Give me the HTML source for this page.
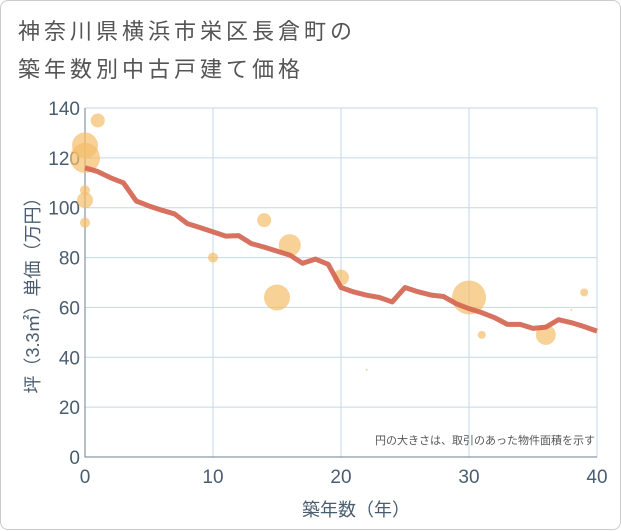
<!DOCTYPE html>
<html><head><meta charset="utf-8"><style>
body{margin:0;background:#fff;font-family:"Liberation Sans","Noto Sans CJK JP",sans-serif;}
#card{position:absolute;left:0;top:0;width:619px;height:528px;border:1px solid #ccc;border-radius:8px;background:#fff;}
#title{position:absolute;left:17px;top:12px;font-size:22px;letter-spacing:4px;line-height:38px;color:#555;}
</style></head><body>
<div id="card">
<div id="title">神奈川県横浜市栄区長倉町の<br>築年数別中古戸建て価格</div>
<svg id="chart" width="621" height="530" style="position:absolute;left:0;top:0"></svg>
</div>
<script>
const years=[0,1,2,3,4,5,6,7,8,9,10,11,12,13,14,15,16,17,18,19,20,21,22,23,24,25,26,27,28,29,30,31,32,33,34,35,36,37,38,39,40];
const trend=[116,114.5,112,110,102.7,100.7,99,97.5,93.6,92,90.3,88.6,88.8,85.6,84.2,82.6,81,77.7,79.4,77.3,68,66.2,64.9,64,62.2,68,66.3,65,64.4,61.5,59.5,57.9,55.9,53.2,53.2,51.6,52.1,55.1,53.9,52.3,50.5];
const bubbleX=[0,0,1,0,0,0,10,14,16,15,20,22,30,31,36,38,39];
const bubbleY=[125,120,135,107,103,94,80,95,85,64,72,35,64,49,49,59,66];
const bubbleR=[13,15,7,5,8,5,5,7,11,13,8,1,17,4,10,1,4];
const xTicks=[0,10,20,30,40];
const yTicks=[0,20,40,60,80,100,120,140];
const NS="http://www.w3.org/2000/svg";
const svg=document.getElementById('chart');
const X0=84,X1=596,Y0=456,Y1=107;
const sx=v=>X0+(v-0)/40*(X1-X0);
const sy=v=>Y0-(v/140)*(Y0-Y1);
function mk(t,a){const e=document.createElementNS(NS,t);for(const k in a)e.setAttribute(k,a[k]);svg.appendChild(e);return e;}
for(const t of xTicks){
 const l=mk('line',{x1:sx(t),x2:sx(t),y1:Y1,y2:Y0,stroke:'#c5d7e6','stroke-width':1});
 
 
 const tx=mk('text',{x:sx(t),y:Y0+26,'text-anchor':'middle','font-size':19,fill:'#4a5d70'});
 tx.textContent=t;
 
 
}
for(const t of yTicks){
 const l=mk('line',{x1:X0,x2:X1,y1:sy(t),y2:sy(t),stroke:'#c5d7e6','stroke-width':1});
 
 
 const tx=mk('text',{x:X0-5,y:sy(t)+7,'text-anchor':'end','font-size':19,fill:'#4a5d70'});
 tx.textContent=t;
 
 
}
const ax=mk('path',{d:`M${X0} ${Y1}V${Y0}H${X1}`,stroke:'#6f7f8f','stroke-width':1,fill:'none'});


for(let i=0;i<bubbleX.length;i++){
 const c=mk('circle',{cx:sx(bubbleX[i]),cy:sy(bubbleY[i]),r:bubbleR[i],fill:'#f3bd6a','fill-opacity':0.7});
 
 
}
const p=mk('polyline',{points:years.map((y,i)=>sx(y)+','+sy(trend[i])).join(' '),fill:'none',stroke:'#d4634f','stroke-width':5,'stroke-linejoin':'round','stroke-opacity':0.9});


const note=mk('text',{x:X1-2,y:443,'text-anchor':'end','font-size':11,fill:'#555'});
note.textContent='円の大きさは、取引のあった物件面積を示す';


const xt=mk('text',{x:355,y:515,'text-anchor':'middle','font-size':18,fill:'#4a5d70'});
xt.textContent='築年数（年）';


const yt=mk('text',{x:0,y:0,'text-anchor':'middle','font-size':18,fill:'#4a5d70',transform:`translate(38,290) rotate(-90)`});
yt.textContent='坪（3.3㎡）単価（万円）';


</script>
</body></html>
